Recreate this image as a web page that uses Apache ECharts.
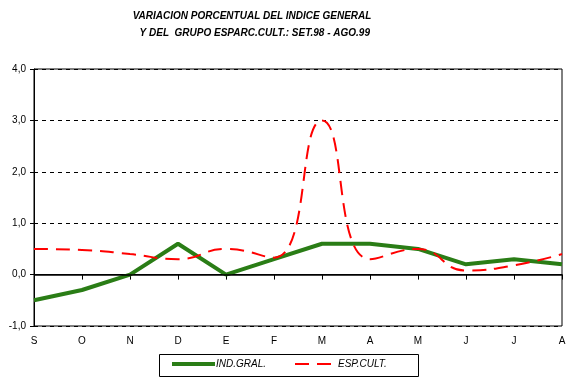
<!DOCTYPE html>
<html><head><meta charset="utf-8">
<script src="https://cdn.jsdelivr.net/npm/echarts@6/dist/echarts.min.js"></script>
<style>html,body{margin:0;padding:0;background:#fff}#c{width:574px;height:380px}</style>
</head><body><div id="c"></div>
<script>
var months = ['S','O','N','D','E','F','M','A','M','J','J','A'];
var indGral = [-0.5, -0.3, 0.0, 0.6, 0.0, 0.3, 0.6, 0.6, 0.5, 0.2, 0.3, 0.2];
var espCult = [0.5, 0.48, 0.4, 0.3, 0.5, 0.33, 3.0, 0.3, 0.5, 0.08, 0.18, 0.4];
var titleLines = ['VARIACION PORCENTUAL DEL INDICE GENERAL', '  Y DEL  GRUPO ESPARC.CULT.: SET.98 - AGO.99'];

var chart = echarts.init(document.getElementById('c'), null, {renderer:'canvas'});
var font = 'Arial, "Liberation Sans", sans-serif';
chart.setOption({
  animation: false,
  backgroundColor: '#fff',
  title: {
    text: titleLines.join('\n'),
    left: 247, top: 3, textAlign: 'center',
    textStyle: {fontFamily: font, fontSize: 10, fontWeight: 'bold', fontStyle: 'italic', color: '#000', lineHeight: 17}
  },
  graphic: [{
    type: 'rect', left: 159, top: 354, z: 0,
    shape: {width: 259, height: 22},
    style: {fill: '#fff', stroke: '#000', lineWidth: 1}
  }],
  legend: [{
    left: 170, top: 359, padding: 0,
    itemWidth: 43, itemHeight: 12,
    itemStyle: {opacity: 0},
    lineStyle: {width: 4, color: '#2a7d16'},
    textStyle: {fontFamily: font, fontSize: 10, fontStyle: 'italic', color: '#000', padding: [0,0,0,-4]},
    data: ['IND.GRAL.']
  }, {
    left: 294, top: 359, padding: 0,
    itemWidth: 36, itemHeight: 12,
    itemStyle: {opacity: 0},
    lineStyle: {width: 2, color: '#ff0000', type: [14, 8]},
    textStyle: {fontFamily: font, fontSize: 10, fontStyle: 'italic', color: '#000', padding: [0,0,0,2]},
    data: ['ESP.CULT.']
  }],
  grid: {left: 34, right: 12, top: 69, bottom: 54, show: true, borderColor: '#000', borderWidth: 1, backgroundColor: 'transparent'},
  xAxis: {
    type: 'category', data: months, boundaryGap: false,
    axisLine: {lineStyle: {color: '#000', width: 1}},
    axisTick: {show: true, alignWithLabel: true, length: 5, lineStyle: {color: '#000'}},
    axisLabel: {fontFamily: font, fontSize: 10, color: '#000', margin: 10},
    splitLine: {show: false}
  },
  yAxis: {
    type: 'value', min: -1, max: 4, interval: 1,
    axisLine: {show: true, lineStyle: {color: '#000'}},
    axisTick: {show: true, length: 4, inside: false, lineStyle: {color: '#000'}},
    axisLabel: {fontFamily: font, fontSize: 10, color: '#000', margin: 8,
      formatter: function(v){ return v.toFixed(1).replace('.', ','); }},
    splitLine: {show: true, lineStyle: {color: '#000', type: [4, 4], width: 1}}
  },
  series: [
    {
      name: 'IND.GRAL.', type: 'line', data: indGral, symbol: 'none',
      lineStyle: {color: '#2a7d16', width: 4}, itemStyle: {color: '#2a7d16'},
      z: 3,
      markLine: {silent: true, symbol: 'none', label: {show: false},
        lineStyle: {color: '#000', type: 'solid', width: 1.5}, data: [{yAxis: 0}]}
    },
    {
      name: 'ESP.CULT.', type: 'line', data: espCult, symbol: 'none', smooth: 0.5,
      lineStyle: {color: '#ff0000', width: 2, type: [14, 8]}, itemStyle: {color: '#ff0000'},
      z: 4
    }
  ]
});
</script>
</body></html>
